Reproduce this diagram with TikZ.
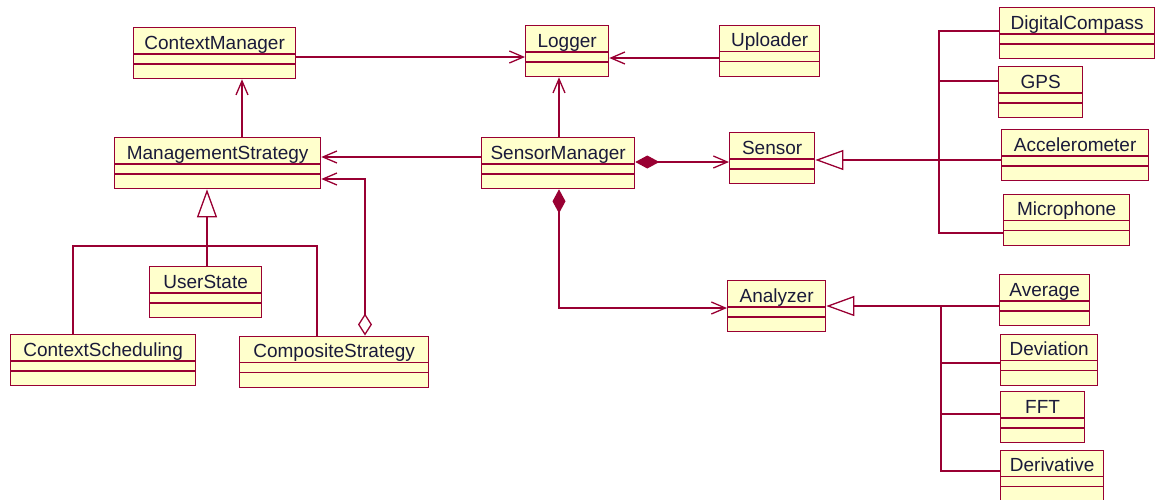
\documentclass[tikz,border=0pt]{standalone}
\usepackage{fontspec}
\setsansfont{Liberation Sans}
\usepackage{tikz}
\usetikzlibrary{arrows.meta}
\definecolor{rose}{HTML}{990033}
\definecolor{cream}{HTML}{FFFFCC}
\definecolor{ink}{HTML}{1A1A3A}
\newdimen\px \px=0.5pt
\tikzset{
  font=\sffamily\fontsize{9.5}{11}\selectfont,
  classbox/.style={
    draw=rose, fill=cream, line width=0.65pt, text=ink,
    anchor=north west, inner xsep=0pt, inner ysep=0pt,
    text height=21.5\px, text depth=29.5\px
  },
  rule/.style={draw=rose, line width=0.65pt},
  assoc/.style={rule, -{Straight Barb[length=7pt, width=6pt]}},
  inherit/.style={rule, -{Triangle[open, length=14pt, width=10pt]}},
  compose/.style={rule, {Diamond[length=12pt, width=6.5pt]}-{Straight Barb[length=7pt, width=6pt]}},
  aggreg/.style={rule, {Diamond[open, length=11pt, width=7pt]}-{Straight Barb[length=7pt, width=6pt]}}
}
% class box: name, top-left corner, width, title
\newcommand{\umlclass}[4]{%
  \node[classbox, minimum width=#3\px] (#1) at (#2) {#4};
  \draw[rule] ([yshift=-27\px]#1.north west) -- ([yshift=-27\px]#1.north east);
  \draw[rule] ([yshift=-37\px]#1.north west) -- ([yshift=-37\px]#1.north east);
}

\begin{document}
\begin{tikzpicture}[x=0.5pt,y=-0.5pt]
  \useasboundingbox (0,0) rectangle (1158,499);

  % context side
  \umlclass{ctxmgr}{133,27}{162}{ContextManager}
  \umlclass{mgmt}{114,137}{206}{ManagementStrategy}
  \umlclass{userstate}{149,266}{112}{UserState}
  \umlclass{ctxsched}{10,334}{185}{ContextScheduling}
  \umlclass{composite}{239,335.5}{189}{CompositeStrategy}

  % core
  \umlclass{logger}{525,25}{83}{Logger}
  \umlclass{uploader}{719,24.5}{100}{Uploader}
  \umlclass{sensmgr}{481,137}{153}{SensorManager}
  \umlclass{sensor}{729,132}{85}{Sensor}
  \umlclass{analyzer}{727,280}{98}{Analyzer}

  % sensors
  \umlclass{compass}{999,7}{155}{DigitalCompass}
  \umlclass{gps}{998,66}{84}{GPS}
  \umlclass{accel}{1001,129}{147}{Accelerometer}
  \umlclass{mic}{1003,193.5}{126}{Microphone}

  % analyzers
  \umlclass{average}{999,274}{90}{Average}
  \umlclass{deviation}{1000,333.5}{97}{Deviation}
  \umlclass{fft}{1000,391}{84}{FFT}
  \umlclass{derivative}{1000,449.5}{103}{Derivative}

  % associations
  \draw[assoc] (ctxmgr.east |- 0,57) -- (logger.west |- 0,57);
  \draw[assoc] (uploader.west |- 0,58) -- (logger.east |- 0,58);
  \draw[assoc] (559,0 |- sensmgr.north) -- (559,0 |- logger.south);
  \draw[assoc] (242,0 |- mgmt.north) -- (242,0 |- ctxmgr.south);
  \draw[assoc] (sensmgr.west |- 0,157) -- (mgmt.east |- 0,157);

  % composition / aggregation
  \draw[compose] (sensmgr.east |- 0,162) -- (sensor.west |- 0,162);
  \draw[compose] (559,0 |- sensmgr.south) |- (analyzer.west |- 0,308);
  \draw[aggreg] (365,0 |- composite.north) |- (mgmt.east |- 0,179);

  % generalisation
  \draw[inherit] (207,0 |- userstate.north) -- (207,0 |- mgmt.south);
  \draw[rule] (73,0 |- ctxsched.north) |- (317,246) -- (317,0 |- composite.north);
  \draw[inherit] (accel.west |- 0,160) -- (sensor.east |- 0,160);
  \draw[rule] (compass.west |- 0,31) -| (939,233) -- (mic.west |- 0,233);
  \draw[rule] (gps.west |- 0,81) -- (939,81);
  \draw[inherit] (average.west |- 0,306) -- (analyzer.east |- 0,306);
  \draw[rule] (941,306) |- (derivative.west |- 0,471);
  \draw[rule] (deviation.west |- 0,363) -- (941,363);
  \draw[rule] (fft.west |- 0,414) -- (941,414);
\end{tikzpicture}
\end{document}
